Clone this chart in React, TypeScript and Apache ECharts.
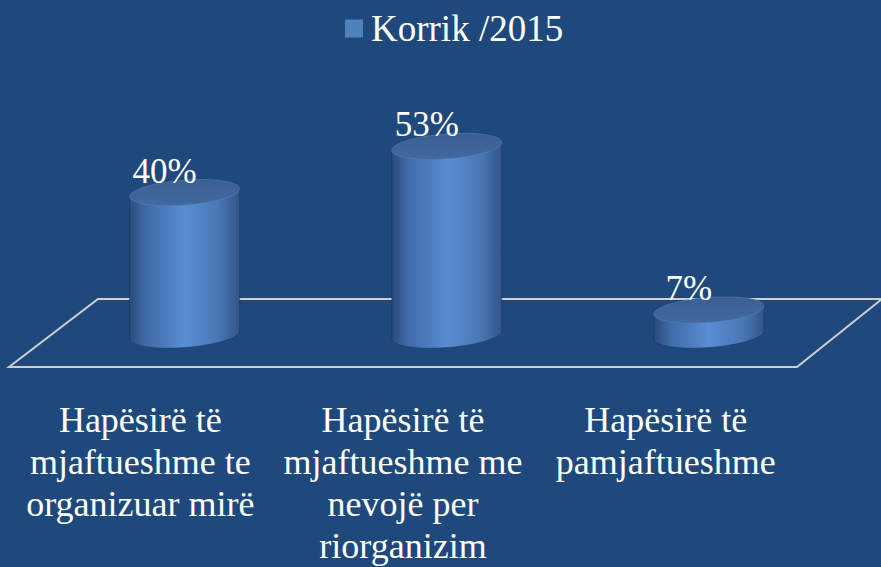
import React, { useEffect, useRef } from "react";
import * as echarts from "echarts";

const seriesName = "Korrik /2015";
const categories = [
  "Hapësirë të\nmjaftueshme te\norganizuar mirë",
  "Hapësirë të\nmjaftueshme me\nnevojë per\nriorganizim",
  "Hapësirë të\npamjaftueshme",
];
const values = [40, 53, 7];

export default function App() {
  const ref = useRef<HTMLDivElement>(null);
  useEffect(() => {
    document.body.style.margin = "0";
    const chart = echarts.init(ref.current!, null, { renderer: "svg" });
    const renderItem = (params: any, api: any) => {
      const i = api.value(0);
      const v = api.value(1);
      const base = api.coord([i, 0]);
      const top = api.coord([i, v]);
      const a = (api.size([1, 0])[0] * 0.42) / 2;
      const b = 12.5;
      const sk = -4;
      const cx = base[0];
      const pt = (cy: number, t: number) => [
        cx + a * Math.cos(t),
        cy + b * Math.sin(t) + sk * Math.cos(t),
      ];
      const N = 40;
      const body: number[][] = [];
      for (let s = 0; s <= N; s++) body.push(pt(base[1], Math.PI - (Math.PI * s) / N));
      for (let s = 0; s <= N; s++) body.push(pt(top[1], (-Math.PI * s) / N));
      const cap: number[][] = [];
      for (let s = 0; s < 2 * N; s++) cap.push(pt(top[1], (2 * Math.PI * s) / (2 * N)));
      return {
        type: "group",
        children: [
          {
            type: "polygon",
            shape: { points: body },
            style: {
              fill: new echarts.graphic.LinearGradient(0, 0, 1, 0, [
                { offset: 0, color: "#2A4A7C" },
                { offset: 0.15, color: "#3F6BA8" },
                { offset: 0.5, color: "#5A8DD2" },
                { offset: 0.8, color: "#4A78B6" },
                { offset: 1, color: "#31558A" },
              ]),
              stroke: "rgba(20,45,80,0.4)",
              lineWidth: 1,
            },
          },
          {
            type: "polygon",
            shape: { points: cap },
            style: {
              fill: new echarts.graphic.LinearGradient(0, 0, 0, 1, [
                { offset: 0, color: "#3A5F93" },
                { offset: 1, color: "#4269A0" },
              ]),
              stroke: "rgba(90,130,190,0.5)",
              lineWidth: 1,
            },
          },
          {
            type: "text",
            style: {
              text: v + "%",
              x: cx - 20,
              y: top[1] - 4,
              align: "center",
              verticalAlign: "bottom",
              fill: "#FFFFFF",
              font: "35px Liberation Serif",
            },
          },
        ],
      };
    };
    chart.setOption({
      animation: false,
      backgroundColor: "#1F497D",
      legend: {
        data: [seriesName],
        left: 340,
        top: 5,
        icon: "rect",
        itemWidth: 18,
        itemHeight: 18,
        itemGap: 10,
        textStyle: { color: "#FFFFFF", fontSize: 37, fontFamily: "serif", padding: [0, 0, 0, 3] },
      },
      graphic: [
        {
          type: "polygon",
          z: 0,
          shape: { points: [[9, 367], [98, 299], [882, 299], [797, 367]] },
          style: { fill: "none", stroke: "#CFCFCF", lineWidth: 2 },
        },
      ],
      grid: [
        { left: 53.5, right: 41, top: 121.4, bottom: 232 },
        { left: 9, right: 84, top: 121.4, bottom: 232 },
      ],
      xAxis: [
        {
          type: "category",
          data: categories,
          gridIndex: 0,
          axisLine: { show: false },
          axisTick: { show: false },
          axisLabel: { show: false },
        },
        {
          type: "category",
          data: categories,
          gridIndex: 1,
          axisLine: { show: false },
          axisTick: { show: false },
          axisLabel: {
            show: true,
            interval: 0,
            margin: 66,
            color: "#FFFFFF",
            fontSize: 36,
            lineHeight: 42,
            fontFamily: "serif",
          },
        },
      ],
      yAxis: [
        { type: "value", min: 0, max: 60, gridIndex: 0, show: false },
        { type: "value", min: 0, max: 60, gridIndex: 1, show: false },
      ],
      series: [
        {
          name: seriesName,
          type: "custom",
          xAxisIndex: 0,
          yAxisIndex: 0,
          z: 5,
          itemStyle: { color: "#4F81BD" },
          data: values.map((v, i) => [i, v]),
          renderItem,
        },
      ],
    });
    return () => chart.dispose();
  }, []);
  return <div ref={ref} style={{ width: 881, height: 567 }} />;
}
